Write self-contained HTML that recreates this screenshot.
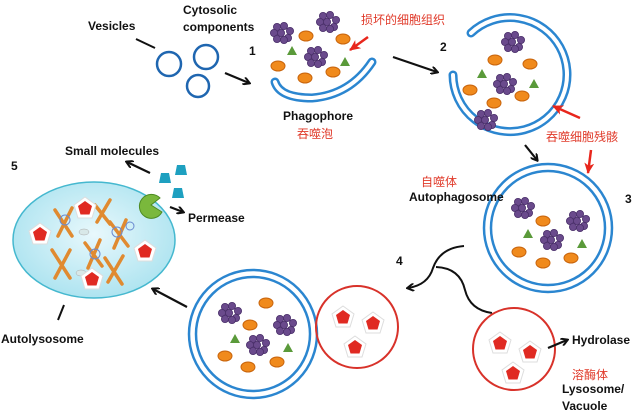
<!DOCTYPE html>
<html><head><meta charset="utf-8"><style>
html,body{margin:0;padding:0;background:#fff;}
svg{display:block;}
text{font-family:"Liberation Sans","Noto Sans CJK SC",sans-serif;}
.b{font-weight:bold;font-size:12px;fill:#111;}
.r{font-size:12px;fill:#e03a2a;}
</style></head><body>
<svg width="640" height="414" viewBox="0 0 640 414" xmlns="http://www.w3.org/2000/svg">
<defs>
<marker id="ah" markerWidth="8" markerHeight="8" refX="6" refY="4" orient="auto" markerUnits="userSpaceOnUse"><path d="M0,0 L7,4 L0,8" fill="none" stroke="#111" stroke-width="2"/></marker>
<marker id="rh" markerWidth="12" markerHeight="10" refX="10" refY="5" orient="auto" markerUnits="userSpaceOnUse"><path d="M0,0 L11,5 L0,10 L3,5z" fill="#e8261c"/></marker>
<radialGradient id="cy" cx="50%" cy="45%" r="60%"><stop offset="0" stop-color="#e8f8fc"/><stop offset="1" stop-color="#a9e2ef"/></radialGradient>
<g id="grape" fill="#6a4a8c" stroke="#4a2f6a" stroke-width="0.8">
<circle cx="-5" cy="-6" r="3.6"/><circle cx="2" cy="-7" r="3.6"/><circle cx="8" cy="-2" r="3.6"/><circle cx="-8" cy="0" r="3.6"/><circle cx="-1" cy="0" r="3.6"/><circle cx="6" cy="5" r="3.6"/><circle cx="-5" cy="6" r="3.6"/><circle cx="2" cy="7" r="3.6"/>
</g>
<ellipse id="ov" rx="7" ry="5" fill="#f08a1c" stroke="#c8640c" stroke-width="1"/>
<path id="tri" d="M0,-5 L5,4 L-5,4z" fill="#5a9a3a"/>
<g id="pent"><path d="M0,-11 L11,-3 L7,10 L-7,10 L-11,-3z" fill="#fff" stroke="#ddd"/><path d="M0,-7 L7,-2 L4.5,6.5 L-4.5,6.5 L-7,-2z" fill="#e02a22"/></g>
<path id="cup" d="M-4,-5 L4,-5 L6,5 L-6,5z" fill="#1ea0c0"/>
</defs>

<text class="b" x="88" y="30">Vesicles</text>
<line x1="136" y1="39" x2="155" y2="48" stroke="#111" stroke-width="2"/>
<text class="b" x="183" y="14">Cytosolic</text>
<text class="b" x="183" y="31">components</text>
<g fill="none" stroke="#1f66b0" stroke-width="2.5">
<circle cx="169" cy="64" r="12"/><circle cx="206" cy="57" r="12"/><circle cx="198" cy="86" r="11"/>
</g>
<text class="b" x="249" y="55">1</text>
<line x1="225" y1="73" x2="249" y2="83" stroke="#111" stroke-width="2.2" marker-end="url(#ah)"/>

<use href="#grape" x="282" y="33"/><use href="#grape" x="328" y="22"/><use href="#grape" x="316" y="57"/>
<use href="#ov" x="306" y="36"/><use href="#ov" x="343" y="39"/><use href="#ov" x="278" y="66"/><use href="#ov" x="305" y="78"/><use href="#ov" x="333" y="72"/>
<use href="#tri" x="292" y="51"/><use href="#tri" x="345" y="62"/>
<path d="M275,82 Q280,98 312,98 Q350,95 372,62" fill="none" stroke="#2b86d0" stroke-width="9" stroke-linecap="round"/>
<path d="M275,82 Q280,98 312,98 Q350,95 372,62" fill="none" stroke="#fff" stroke-width="4" stroke-linecap="round"/>
<text class="b" x="283" y="120">Phagophore</text>
<text class="r" x="297" y="138">吞噬泡</text>
<text class="r" x="361" y="24">损坏的细胞组织</text>
<line x1="368" y1="37" x2="350" y2="50" stroke="#e8261c" stroke-width="2.5" marker-end="url(#rh)"/>
<text class="b" x="440" y="51">2</text>
<line x1="393" y1="57" x2="437" y2="72" stroke="#111" stroke-width="2.2" marker-end="url(#ah)"/>

<path d="M471,33 A57,57 0 1 1 453,75" fill="none" stroke="#2b86d0" stroke-width="9" stroke-linecap="round"/>
<path d="M471,33 A57,57 0 1 1 453,75" fill="none" stroke="#fff" stroke-width="4" stroke-linecap="round"/>
<use href="#grape" x="513" y="42"/><use href="#grape" x="505" y="84"/><use href="#grape" x="486" y="120"/>
<use href="#ov" x="495" y="60"/><use href="#ov" x="530" y="64"/><use href="#ov" x="470" y="90"/><use href="#ov" x="494" y="103"/><use href="#ov" x="522" y="96"/>
<use href="#tri" x="482" y="74"/><use href="#tri" x="534" y="84"/>
<line x1="580" y1="118" x2="553" y2="106" stroke="#e8261c" stroke-width="2.5" marker-end="url(#rh)"/>
<text class="r" x="546" y="141">吞噬细胞残骸</text>
<line x1="591" y1="150" x2="588" y2="173" stroke="#e8261c" stroke-width="2.5" marker-end="url(#rh)"/>
<line x1="525" y1="145" x2="537" y2="160" stroke="#111" stroke-width="2.2" marker-end="url(#ah)"/>

<circle cx="548" cy="228" r="64" fill="none" stroke="#2b86d0" stroke-width="2.5"/>
<circle cx="548" cy="228" r="57" fill="none" stroke="#2b86d0" stroke-width="2.5"/>
<use href="#grape" x="523" y="208"/><use href="#grape" x="578" y="221"/><use href="#grape" x="552" y="240"/>
<use href="#ov" x="543" y="221"/><use href="#ov" x="519" y="252"/><use href="#ov" x="543" y="263"/><use href="#ov" x="571" y="258"/>
<use href="#tri" x="528" y="234"/><use href="#tri" x="582" y="244"/>
<text class="b" x="625" y="203">3</text>
<text class="r" x="421" y="186">自噬体</text>
<text class="b" x="409" y="201">Autophagosome</text>

<text class="b" x="396" y="265">4</text>
<path d="M464,246 Q440,248 433,268 Q428,285 408,288" fill="none" stroke="#111" stroke-width="2" marker-end="url(#ah)"/>
<path d="M436,267 Q460,268 465,290 Q470,310 492,313" fill="none" stroke="#111" stroke-width="2"/>

<circle cx="514" cy="349" r="41" fill="none" stroke="#d8322a" stroke-width="2"/>
<use href="#pent" x="500" y="343"/><use href="#pent" x="530" y="352"/><use href="#pent" x="513" y="373"/>
<line x1="548" y1="348" x2="567" y2="340" stroke="#111" stroke-width="2.2" marker-end="url(#ah)"/>
<text class="b" x="572" y="344">Hydrolase</text>
<text class="r" x="572" y="379">溶酶体</text>
<text class="b" x="562" y="393">Lysosome/</text>
<text class="b" x="562" y="410">Vacuole</text>

<circle cx="253" cy="334" r="64" fill="none" stroke="#2b86d0" stroke-width="2.5"/>
<circle cx="253" cy="334" r="57" fill="none" stroke="#2b86d0" stroke-width="2.5"/>
<circle cx="357" cy="327" r="41" fill="none" stroke="#d8322a" stroke-width="2"/>
<use href="#grape" x="230" y="313"/><use href="#grape" x="285" y="325"/><use href="#grape" x="258" y="345"/>
<use href="#ov" x="266" y="303"/><use href="#ov" x="250" y="325"/><use href="#ov" x="225" y="356"/><use href="#ov" x="248" y="367"/><use href="#ov" x="277" y="362"/>
<use href="#tri" x="235" y="339"/><use href="#tri" x="288" y="348"/>
<use href="#pent" x="343" y="317"/><use href="#pent" x="373" y="323"/><use href="#pent" x="355" y="347"/>
<line x1="187" y1="307" x2="153" y2="289" stroke="#111" stroke-width="2.2" marker-end="url(#ah)"/>

<ellipse cx="94" cy="240" rx="81" ry="58" fill="url(#cy)" stroke="#45b8cf" stroke-width="1.5"/>
<g stroke="#e08a30" stroke-width="3.5" stroke-linecap="round">
<path d="M55,210 L72,236 M72,208 L58,236"/><path d="M95,205 L110,224 M110,200 L97,222"/>
<path d="M110,222 L128,246 M126,220 L114,248"/><path d="M85,243 L102,266 M100,240 L88,268"/>
<path d="M52,250 L70,278 M70,250 L55,278"/><path d="M105,258 L122,284 M123,256 L108,282"/>
</g>
<g fill="none" stroke="#6a8ad0" stroke-width="1"><circle cx="65" cy="220" r="5"/><circle cx="117" cy="232" r="5"/><circle cx="95" cy="254" r="5"/><circle cx="130" cy="226" r="4"/></g>
<ellipse cx="84" cy="232" rx="5" ry="3" fill="#d8e8e8" stroke="#aaa" stroke-width="0.5"/>
<ellipse cx="81" cy="273" rx="5" ry="3" fill="#d8e8e8" stroke="#aaa" stroke-width="0.5"/>
<use href="#pent" x="40" y="234"/><use href="#pent" x="85" y="208"/><use href="#pent" x="145" y="251"/><use href="#pent" x="92" y="279"/>
<line x1="64" y1="305" x2="58" y2="320" stroke="#111" stroke-width="2"/>
<text class="b" x="1" y="343">Autolysosome</text>

<text class="b" x="11" y="170">5</text>
<text class="b" x="65" y="155">Small molecules</text>
<line x1="150" y1="173" x2="127" y2="162" stroke="#111" stroke-width="2.2" marker-end="url(#ah)"/>
<use href="#cup" x="165" y="178"/><use href="#cup" x="181" y="170"/><use href="#cup" x="178" y="193"/>
<path d="M160,198 A12,12 0 1 0 162,212 L151,205z" fill="#7ab83c" stroke="#4d8a22" stroke-width="1"/>
<line x1="170" y1="207" x2="183" y2="212" stroke="#111" stroke-width="2.2" marker-end="url(#ah)"/>
<text class="b" x="188" y="222">Permease</text>
</svg>
</body></html>
